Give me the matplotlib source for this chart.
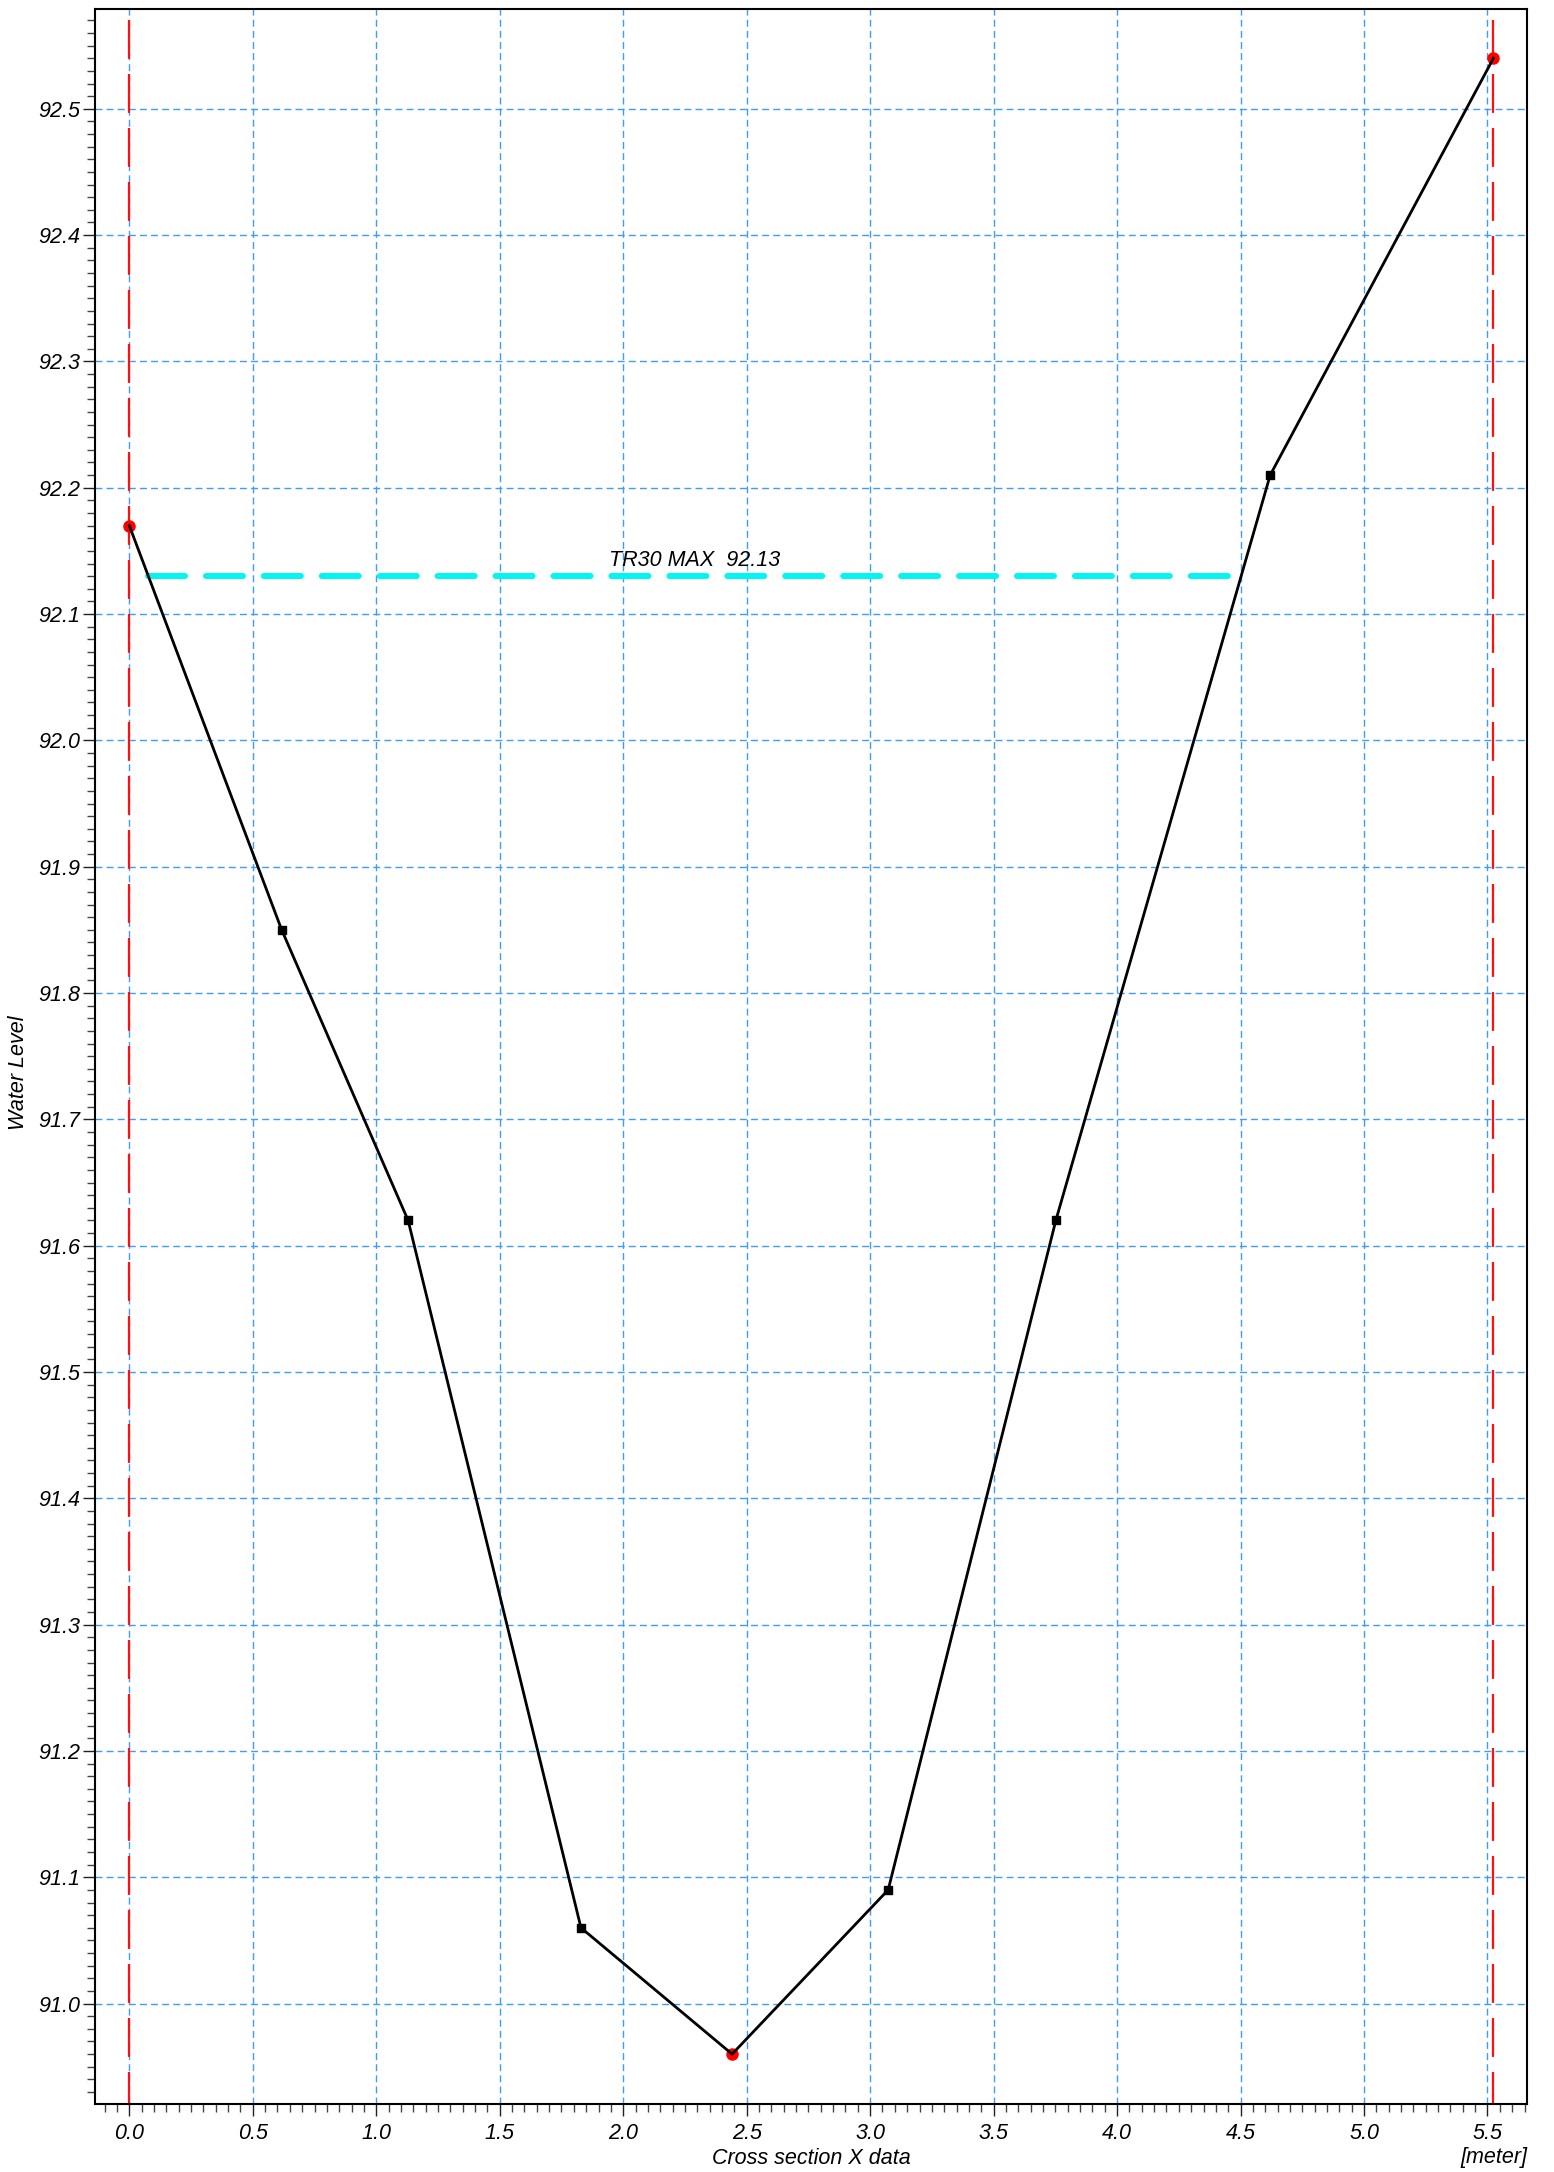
import numpy as np
import matplotlib
matplotlib.use("Agg")
import matplotlib.pyplot as plt
from matplotlib.ticker import MultipleLocator, FormatStrFormatter

# Data
x_section = [0.0, 0.617, 1.129, 1.829, 2.441, 3.073, 3.752, 4.620, 5.524]
z_level = [92.17, 91.85, 91.62, 91.06, 90.96, 91.09, 91.62, 92.21, 92.54]
key_idx = [0, 4, 8]          # red points: banks and thalweg
bank_x = [0.0, 5.524]        # red dashed vertical lines
water_level = 92.13
water_label = "TR30 MAX  92.13"
bank_top = 92.57

plt.rcParams['font.family'] = ['Liberation Sans', 'DejaVu Sans']
plt.rcParams['font.style'] = 'italic'
FS = 15.5

fig = plt.figure(figsize=(15.54, 21.72), dpi=100)
ax = fig.add_axes([95/1554, 1-2104/2172, (1527-95)/1554, (2104-9)/2172])

ax.set_xlim(-0.139, 5.66)
ax.set_ylim(90.9205, 92.579)

# grid
ax.grid(True, which='major', color='#3f9cff', lw=1.0, ls=(0, (5, 3)))
ax.set_axisbelow(True)

# bank lines
for bx in bank_x:
    ax.plot([bx, bx], [bank_top, 90.85], color='#ff1010', lw=1.6,
            dashes=(17.5, 6.8), zorder=2)

# water level line between the intersections with the profile
xs = np.array(x_section); zs = np.array(z_level)
imin = int(np.argmin(zs))
x_left = np.interp(water_level, zs[:imin+1][::-1], xs[:imin+1][::-1])
x_right = np.interp(water_level, zs[imin:], xs[imin:])
ax.plot([x_left, x_right], [water_level, water_level], color='#00f5f5',
        lw=4.3, dashes=(6.2, 3.5), solid_capstyle='round',
        dash_capstyle='round', zorder=3)
ax.text((x_left + x_right) / 2, water_level + 0.004, water_label,
        ha='center', va='bottom', fontsize=FS, style='italic', zorder=5)

# red key points (under the line)
ax.plot([x_section[i] for i in key_idx], [z_level[i] for i in key_idx],
        'o', color='#ff0000', ms=8, mec='#ff0000', zorder=4, clip_on=False)

# profile
ax.plot(x_section, z_level, color='black', lw=2.0, zorder=5)
mid = [i for i in range(len(x_section)) if i not in key_idx]
ax.plot([x_section[i] for i in mid], [z_level[i] for i in mid], 's',
        color='black', ms=5.5, zorder=6)

# ticks
ax.xaxis.set_major_locator(MultipleLocator(0.5))
ax.xaxis.set_minor_locator(MultipleLocator(0.05))
ax.yaxis.set_major_locator(MultipleLocator(0.1))
ax.yaxis.set_minor_locator(MultipleLocator(0.01))
ax.xaxis.set_major_formatter(FormatStrFormatter('%.1f'))
ax.yaxis.set_major_formatter(FormatStrFormatter('%.1f'))
ax.tick_params(which='major', direction='out', length=8.6, width=1.0,
               labelsize=FS, pad=2, colors='#222222', labelcolor='black')
ax.tick_params(which='minor', direction='out', length=5.8, width=1.0,
               colors='#444444')
ax.tick_params(axis='x', which='major', pad=5)
for lab in ax.get_xticklabels() + ax.get_yticklabels():
    lab.set_style('italic')

for sp in ax.spines.values():
    sp.set_linewidth(1.5)
    sp.set_color('black')

fig.text(811/1554, 1-2158/2172, "Cross section X data", ha='center',
         va='center', fontsize=FS, style='italic')
fig.text(1527/1554, 1-2158/2172, "[meter]", ha='right', va='center',
         fontsize=FS, style='italic')
fig.text(19/1554, 1-1073/2172, "Water Level", ha='center', va='center',
         rotation=90, fontsize=FS, style='italic')

fig.savefig("out.png", dpi=100)
